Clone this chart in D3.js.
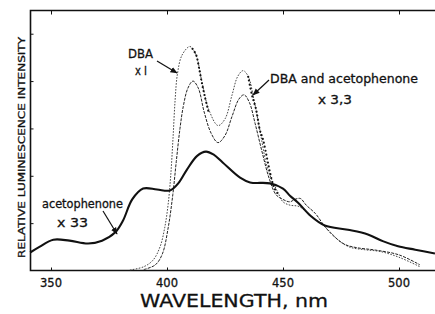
<!DOCTYPE html>
<html>
<head>
<meta charset="utf-8">
<script src="https://cdn.jsdelivr.net/npm/d3@7"></script>
<style>
  body { margin: 0; background: #fff; }
  text { font-family: "DejaVu Sans", sans-serif; fill: #111; stroke: #111; stroke-width: 0.3; }
</style>
</head>
<body>
<svg id="chart" width="435" height="314"></svg>
<script>
// wavelength (nm), relative intensity (one tick = 1)
let acetophenone = [[341,0.38],[345,0.50],[351,0.65],[358,0.63],[366,0.57],[372,0.63],[377.6,0.80],[381,1.05],[385,1.50],[389.7,1.73],[395.7,1.71],[401.3,1.69],[405,1.85],[408.6,2.13],[413,2.42],[416.8,2.51],[420,2.45],[424,2.28],[431.5,1.96],[435.8,1.86],[444.4,1.84],[450,1.73],[453,1.58],[456.5,1.43],[462,1.15],[468,0.95],[478,0.86],[486.6,0.76],[493,0.62],[499.6,0.51],[507,0.44],[515.5,0.36]];

let dba = [[384,0.01],[390,0.08],[394,0.22],[397,0.5],[399,0.9],[400.5,1.4],[401.6,2.0],[402.6,2.8],[403.5,3.6],[404.5,4.15],[406.5,4.55],[409.9,4.73],[412.5,4.55],[415,4.0],[418,3.4],[422,3.06],[425,3.2],[428,3.7],[430.5,4.1],[432.8,4.22],[435,4.1],[437.5,3.6],[440,2.97],[443.5,2.13],[447.8,1.65],[450,1.45],[453,1.38],[457,1.35],[462,1.15],[467,0.97],[471,0.78],[474.6,0.61],[479,0.49],[485,0.44],[492,0.40],[500,0.28],[509,0.08]];

let dbaInner = [[390,0.02],[395,0.12],[398,0.35],[400.5,0.9],[402.5,1.6],[404,2.3],[405.6,3.0],[407,3.46],[409,3.85],[411.2,4.0],[413.5,3.85],[416,3.35],[419,2.9],[422,2.70],[425,2.85],[428,3.25],[431,3.62],[433.2,3.71],[435.5,3.55],[438,3.1],[441,2.5],[444,1.95],[447,1.6],[450,1.5],[453,1.45],[455,1.5],[457.5,1.52],[460,1.38],[464,1.2],[468,0.93],[472,0.72],[476.7,0.55],[482,0.48],[490,0.43],[500,0.33],[509,0.12]];

// heavy dots of "DBA and acetophenone" (null = gap)
let mixture = [[411,4.68],[412.5,4.56],[413.8,4.28],[415,3.97],[416.4,3.65],[418,3.33],[425,null],[435,4.09],[436.6,3.71],[438.4,3.40],[440,2.97],[441.4,2.76],[443,2.4],[444.4,2.07],[446,1.77],[448,1.6]];

let xTicks = [350, 400, 450, 500];
let yTicks = [1, 2, 3, 4, 5];

let svg = d3.select("#chart");
let mLeft = 30.5, mRight = 435, mTop = 10.5, mBottom = 270.5;

let x = d3.scaleLinear().domain([400, 450]).range([167, 283]);
let y = d3.scaleLinear().domain([0, 5.49]).range([mBottom, mTop]);

// frame
svg.append("path")
  .attr("d", `M${mRight},${mTop}H${mLeft}V${mBottom}H${mRight}`)
  .attr("fill", "none").attr("stroke", "#111").attr("stroke-width", 1.6);

// axes with inward ticks
svg.append("g").attr("transform", `translate(0,${mBottom})`)
  .call(d3.axisTop(x).tickValues(xTicks).tickSize(3).tickFormat(""))
  .call(g => g.select(".domain").remove());
svg.append("g").attr("transform", `translate(0,${mTop})`)
  .call(d3.axisBottom(x).tickValues(xTicks).tickSize(4).tickFormat(""))
  .call(g => g.select(".domain").remove());
svg.append("g").attr("transform", `translate(${mLeft},0)`)
  .call(d3.axisRight(y).tickValues(yTicks).tickSize(3).tickFormat(""))
  .call(g => g.select(".domain").remove());
svg.selectAll(".tick line").attr("stroke", "#111").attr("stroke-width", 1);

// tick labels
svg.selectAll(".xlab")
  .data(xTicks)
  .enter()
  .append("text")
  .attr("x", d => x(d))
  .attr("y", 287)
  .attr("text-anchor", "middle")
  .attr("font-size", 11.5)
  .text(d => d);

svg.append("text")
  .attr("x", 140).attr("y", 307)
  .attr("font-size", 18)
  .attr("textLength", 188).attr("lengthAdjust", "spacingAndGlyphs")
  .text("WAVELENGTH, nm");

svg.append("text")
  .attr("transform", "translate(25,147.5) rotate(-90)")
  .attr("text-anchor", "middle")
  .attr("font-size", 9.5)
  .attr("textLength", 221).attr("lengthAdjust", "spacingAndGlyphs")
  .text("RELATIVE  LUMINESCENCE  INTENSITY");

// curves
let line = d3.line()
  .defined(d => d[1] != null)
  .x(d => x(d[0]))
  .y(d => y(d[1]))
  .curve(d3.curveCatmullRom);

svg.append("path").datum(dbaInner)
  .attr("d", line).attr("fill", "none")
  .attr("stroke", "#222").attr("stroke-width", 1)
  .attr("stroke-dasharray", "3,1.2");

svg.append("path").datum(dba)
  .attr("d", line).attr("fill", "none")
  .attr("stroke", "#333").attr("stroke-width", 0.9)
  .attr("stroke-dasharray", "1.6,1.4");

svg.append("path").datum(mixture)
  .attr("d", line).attr("fill", "none")
  .attr("stroke", "#111").attr("stroke-width", 2.2)
  .attr("stroke-linecap", "round")
  .attr("stroke-dasharray", "0,4");

svg.append("path").datum(acetophenone)
  .attr("d", line).attr("fill", "none")
  .attr("stroke", "#111").attr("stroke-width", 2.1);

// labels and arrows
svg.append("defs").append("marker")
  .attr("id", "head").attr("viewBox", "0 0 10 10")
  .attr("refX", 9).attr("refY", 5)
  .attr("markerWidth", 6).attr("markerHeight", 6)
  .attr("orient", "auto")
  .append("path").attr("d", "M0,1L10,5L0,9Z").attr("fill", "#111");

function arrow(x1, y1, x2, y2) {
  svg.append("line")
    .attr("x1", x1).attr("y1", y1).attr("x2", x2).attr("y2", y2)
    .attr("stroke", "#111").attr("stroke-width", 1.2)
    .attr("marker-end", "url(#head)");
}

function label(tx, ty, s, size, len) {
  let t = svg.append("text").attr("x", tx).attr("y", ty).attr("font-size", size).text(s);
  if (len) t.attr("textLength", len).attr("lengthAdjust", "spacingAndGlyphs");
}

label(128, 58, "DBA", 12.5, 25);
label(135, 75, "x I", 12, 12);
arrow(157, 61, 177, 73);

label(270, 83, "DBA  and  acetophenone", 12.5, 148);
label(318, 104, "x  3,3", 12, 34);
arrow(269, 80, 253, 95);

label(42, 208, "acetophenone", 12, 81);
label(57, 227, "x  33", 12, 31);
arrow(103, 211, 117, 234);
</script>
</body>
</html>
